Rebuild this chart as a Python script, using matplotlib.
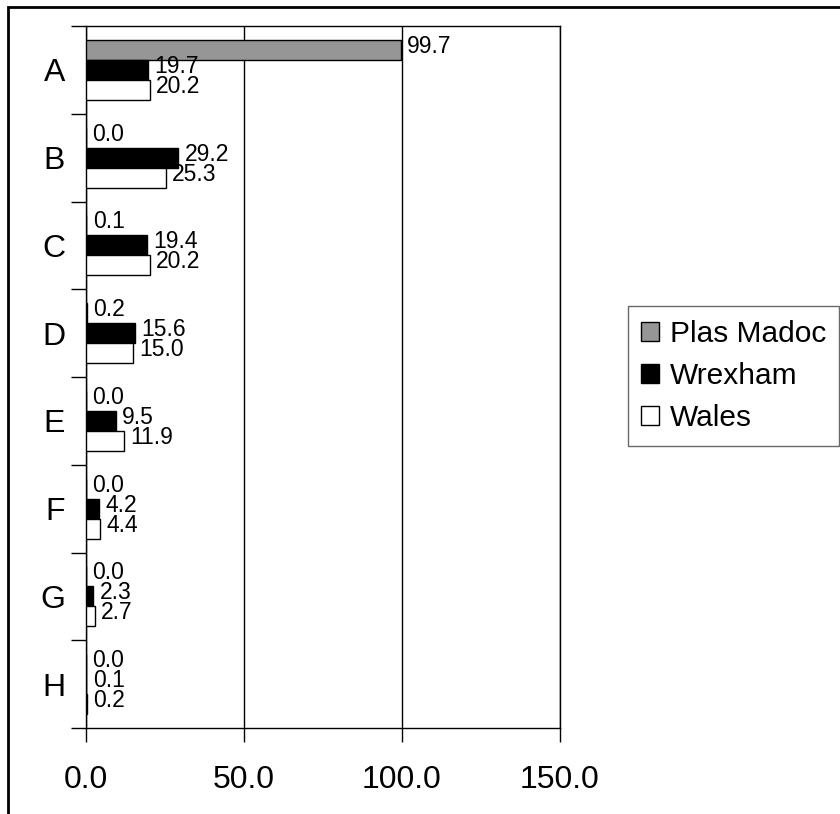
import matplotlib.pyplot as plt
from matplotlib.patches import Rectangle
import numpy as np

plt.rcParams['font.family'] = ['Liberation Sans', 'DejaVu Sans']

categories = ['A', 'B', 'C', 'D', 'E', 'F', 'G', 'H']
plas_madoc = [99.7, 0.0, 0.1, 0.2, 0.0, 0.0, 0.0, 0.0]
wrexham = [19.7, 29.2, 19.4, 15.6, 9.5, 4.2, 2.3, 0.1]
wales = [20.2, 25.3, 20.2, 15.0, 11.9, 4.4, 2.7, 0.2]

series = [('Plas Madoc', plas_madoc, '#969696'),
          ('Wrexham', wrexham, 'black'),
          ('Wales', wales, 'white')]

fig = plt.figure(figsize=(8.4, 8.14), dpi=100)
ax = fig.add_axes([86/840, 1 - 728/814, (560 - 86)/840, (728 - 26)/814])

y = np.arange(len(categories))
h = 0.228
for k, (name, vals, col) in enumerate(series):
    pos = y + (k - 1) * h
    ax.barh(pos, vals, height=h, color=col, edgecolor='black', linewidth=1, label=name, zorder=3)
    for p, v in zip(pos, vals):
        ax.text(v + 2.0, p - 0.04, f'{v:.1f}', va='center', ha='left', fontsize=16.5, zorder=4)

ax.set_xlim(0, 150)
ax.set_ylim(len(categories) - 0.5, -0.5)
ax.set_xticks([0, 50, 100, 150])
ax.set_xticklabels(['0.0', '50.0', '100.0', '150.0'], fontsize=23)
ax.set_yticks(np.arange(len(categories) + 1) - 0.5)
ax.set_yticklabels([])
ax.set_yticks(y, minor=True)
ax.set_yticklabels(categories, minor=True, fontsize=23)
ax.tick_params(axis='y', which='minor', length=0, pad=15)
ax.tick_params(axis='y', which='major', length=11, width=1, direction='out')
ax.tick_params(axis='x', length=10, width=1, direction='out', pad=17)
ax.xaxis.grid(True, color='black', linewidth=1, zorder=0)
for s in ['left', 'bottom', 'top', 'right']:
    ax.spines[s].set_linewidth(1)

leg = fig.legend(loc='center left', bbox_to_anchor=(628/840, 1 - 376/814), fontsize=21.5,
                 frameon=True, fancybox=False, edgecolor='#444444', handlelength=0.6,
                 handleheight=0.6, handletextpad=0.35, borderpad=0.45, labelspacing=0.48,
                 borderaxespad=0)
leg.get_frame().set_linewidth(1)

fig.patches.append(Rectangle((8/840, -0.1), 1.2, 1.1 - 7/814, transform=fig.transFigure,
                             fill=False, edgecolor='black', linewidth=2, clip_on=False))

fig.savefig('out.png', dpi=100)
